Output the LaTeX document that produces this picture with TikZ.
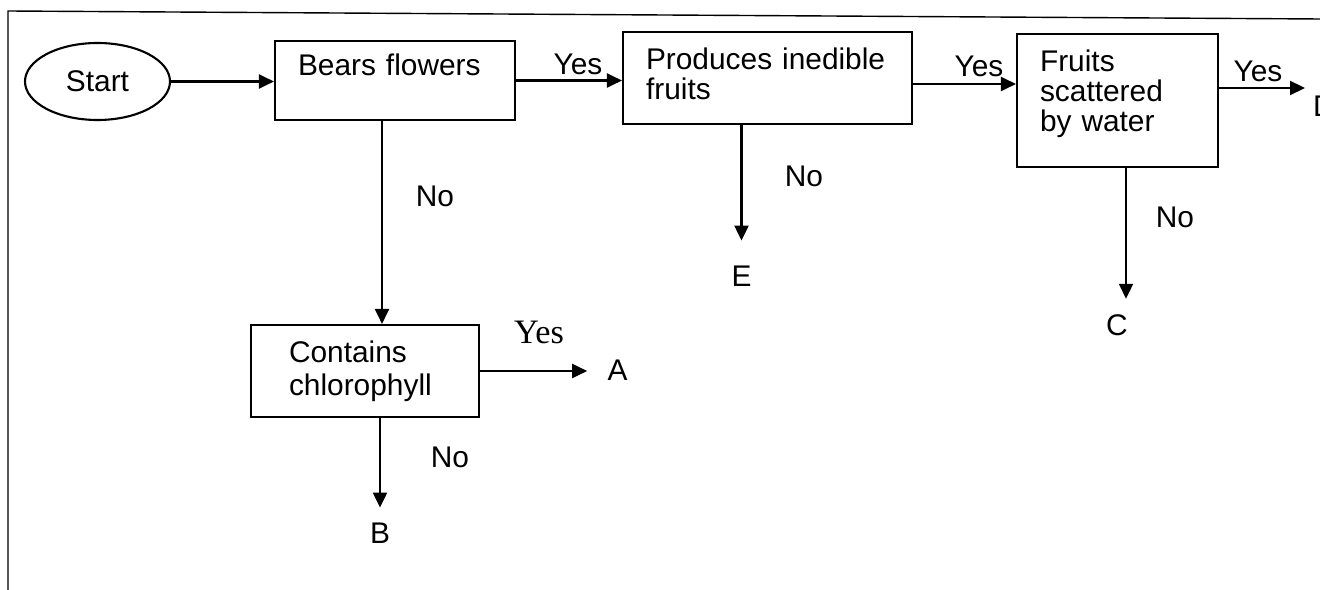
\documentclass[tikz,border=0pt]{standalone}
\usepackage{fontspec}
\setmainfont{Liberation Sans}
\newfontfamily\yesserif{Liberation Serif}
\usetikzlibrary{arrows.meta,shapes.geometric}

\tikzset{
  stepnode/.style={draw, line width=1.2pt, align=left, inner xsep=4.6mm, inner ysep=0pt},
  flow/.style={line width=1.2pt, -{Triangle[length=3mm,width=2.8mm]}},
  lbl/.style={inner sep=0pt, anchor=base}
}

\begin{document}
\begin{tikzpicture}[x=0.2mm, y=-0.2mm, font=\fontsize{17}{17}\selectfont]
\useasboundingbox (0, 0) rectangle (1320, 590);
\draw [line width=0.8pt] (8, 590) -- (8, 11) -- (1320, 19);
\node [draw, ellipse, line width=1.2pt, minimum width=29mm, minimum height=15.4mm, inner sep=0pt] (start) at (97.5, 81.5) {Start};
\node [stepnode, text width=38.8mm, minimum height=15.8mm, text height=12pt, text depth=18pt] (bears) at (395, 80.5) {Bears flowers};
\node [stepnode, text width=48.6mm, minimum height=18.4mm, text depth=7.6mm] (produces) at (767.5, 78) {Produces inedible\\fruits};
\node [stepnode, text width=31mm, minimum height=26.6mm, text depth=15.8mm] (scattered) at (1117.5, 100.5) {Fruits\\scattered\\by water};
\node [stepnode, text width=30.4mm, inner xsep=7.6mm, minimum height=18.4mm, font=\fontsize{17}{19}\selectfont] (chloro) at (365, 371) {Contains\\chlorophyll};
\node [lbl] (outA) at (617.5, 380) {A};
\node [lbl] (outB) at (380, 543) {B};
\node [lbl] (outC) at (1117, 335) {C};
\node [lbl] (outD) at (1324, 117) {D};
\node [lbl] (outE) at (741.5, 287) {E};
\coordinate (endD) at (1305, 88);
\node [lbl] (yes1) at (578, 75) {Yes};
\node [lbl] (yes2) at (979, 77) {Yes};
\node [lbl] (yes3) at (1258, 82) {Yes};
\node [lbl, font=\yesserif\fontsize{19.5}{19.5}\selectfont] (yes4) at (539, 343) {Yes};
\node [lbl] (no1) at (435, 207) {No};
\node [lbl] (no2) at (804, 187) {No};
\node [lbl] (no3) at (1175, 228) {No};
\node [lbl] (no4) at (450, 467) {No};
\draw [flow] (start.east) -- (start.east -| bears.west);
\draw [flow] (bears.east) -- (bears.east -| produces.west);
\draw [flow] ([yshift=-1.2mm]produces.east) -- ([yshift=-1.2mm]produces.east -| scattered.west);
\draw [flow] ([yshift=2.5mm]scattered.east) -- ([yshift=2.5mm]scattered.east -| endD);
\draw [flow] ([xshift=-2.6mm]bears.south) -- ([xshift=-2.6mm]bears.south |- chloro.north);
\draw [flow, shorten >=5.1mm] (produces.south -| outE.north) -- (outE.north);
\draw [flow, shorten >=3mm] ([xshift=1.7mm]scattered.south) -- ([xshift=1.7mm]scattered.south |- outC.north);
\draw [flow, shorten >=2.9mm] (chloro.south -| outB.north) -- (outB.north);
\draw [flow, shorten >=4mm] (chloro.east) -- (chloro.east -| outA.west);
\end{tikzpicture}
\end{document}
